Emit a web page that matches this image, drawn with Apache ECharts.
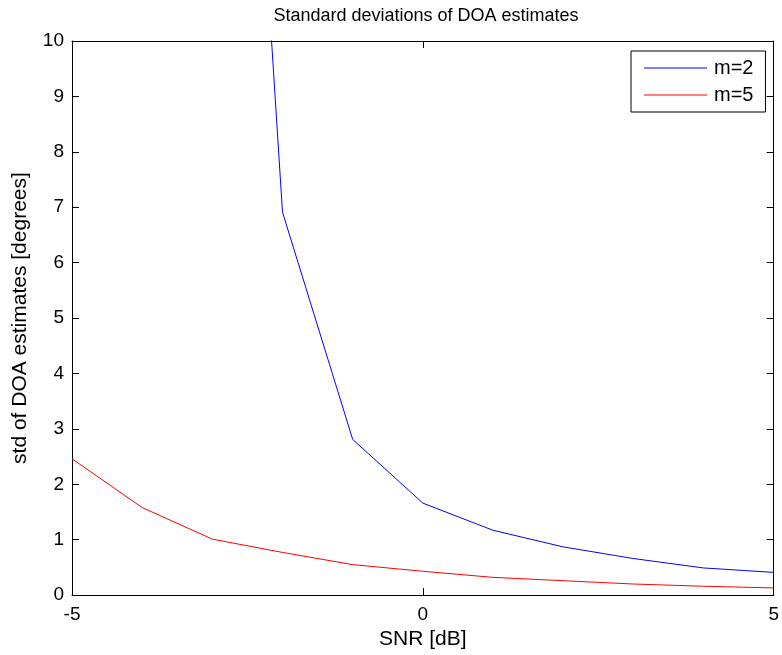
<!DOCTYPE html>
<html>
<head>
<meta charset="utf-8">
<script src="https://cdn.jsdelivr.net/npm/echarts@6/dist/echarts.min.js"></script>
<style>html,body{margin:0;padding:0;background:#fff;}#c{width:782px;height:655px;}</style>
</head>
<body>
<div id="c"></div>
<script>
var snr = [-5, -4, -3, -2, -1, 0, 1, 2, 3, 4, 5];
var stdM2 = [null, null, 26.7, 6.91, 2.81, 1.66, 1.17, 0.87, 0.66, 0.49, 0.41];
var stdM5 = [2.46, 1.58, 1.01, 0.77, 0.55, 0.43, 0.32, 0.26, 0.20, 0.16, 0.13];
var seriesNames = ['m=2', 'm=5'];
var seriesColors = ['#0000ff', '#ff0000'];
var titleText = 'Standard deviations of DOA estimates';
var xName = 'SNR [dB]';
var yName = 'std of DOA estimates [degrees]';

function pairs(xs, ys) { return xs.map(function (x, i) { return [x, ys[i]]; }); }

var font = 'Liberation Sans, Arial, Helvetica, sans-serif';
var axisCommon = {
  axisLine: { show: true, onZero: false, lineStyle: { color: '#000', width: 1 } },
  axisTick: { show: true, inside: true, length: 7, lineStyle: { color: '#000' } },
  splitLine: { show: false }
};
var chart = echarts.init(document.getElementById('c'));
chart.setOption({
  animation: false,
  backgroundColor: '#fff',
  title: { text: titleText, left: 421, textAlign: 'center', top: 2,
    textStyle: { fontFamily: font, fontSize: 18, fontWeight: 'normal', color: '#000' } },
  grid: { left: 72, right: 7, top: 41, bottom: 59 },
  legend: {
    orient: 'vertical', left: 631, top: 51,
    data: seriesNames.map(function (n) { return { name: n, icon: 'rect' }; }),
    itemWidth: 63, itemHeight: 1, itemGap: 7,
    padding: [7, 12, 7, 13],
    borderColor: '#000', borderWidth: 1, backgroundColor: '#fff', borderRadius: 0,
    textStyle: { fontFamily: font, fontSize: 20, color: '#000', lineHeight: 20, padding: [0, 0, 0, 2] }
  },
  xAxis: [
    Object.assign({ type: 'value', min: -5, max: 5, interval: 5, position: 'bottom',
      name: xName, nameLocation: 'middle', nameGap: 33,
      nameTextStyle: { fontFamily: font, fontSize: 21, color: '#000' },
      axisLabel: { fontFamily: font, fontSize: 19, color: '#000', margin: 10 } }, axisCommon),
    Object.assign({ type: 'value', min: -5, max: 5, interval: 5, position: 'top',
      axisLabel: { show: false } }, axisCommon)
  ],
  yAxis: [
    Object.assign({ type: 'value', min: 0, max: 10, interval: 1, position: 'left',
      name: yName, nameLocation: 'middle', nameGap: 41, nameRotate: 90,
      nameTextStyle: { fontFamily: font, fontSize: 21, color: '#000' },
      axisLabel: { fontFamily: font, fontSize: 19, color: '#000', margin: 8 } }, axisCommon),
    Object.assign({ type: 'value', min: 0, max: 10, interval: 1, position: 'right',
      axisLabel: { show: false } }, axisCommon)
  ],
  series: [
    { name: seriesNames[0], type: 'line', data: pairs(snr, stdM2), symbol: 'none', showSymbol: false,
      clip: true, connectNulls: false, lineStyle: { color: seriesColors[0], width: 1 }, itemStyle: { color: seriesColors[0] } },
    { name: seriesNames[1], type: 'line', data: pairs(snr, stdM5), symbol: 'none', showSymbol: false,
      clip: true, lineStyle: { color: seriesColors[1], width: 1 }, itemStyle: { color: seriesColors[1] } }
  ]
});
</script>
</body>
</html>
